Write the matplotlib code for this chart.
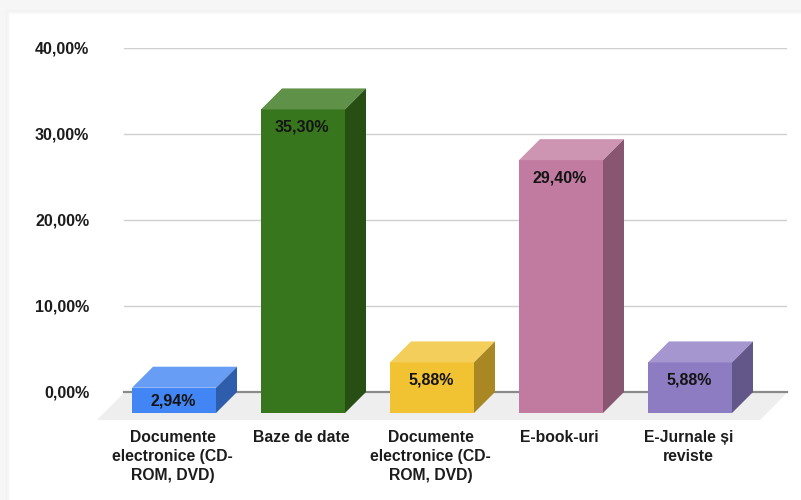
import matplotlib
matplotlib.use("Agg")
import matplotlib.pyplot as plt
from matplotlib.patches import Polygon, Rectangle
from matplotlib.transforms import IdentityTransform

plt.rcParams['font.family'] = ['Liberation Sans', 'DejaVu Sans']

categories = ["Documente\nelectronice (CD-\nROM, DVD)", "Baze de date",
              "Documente\nelectronice (CD-\nROM, DVD)", "E-book-uri",
              "E-Jurnale și\nreviste"]
values = [2.94, 35.30, 5.88, 29.40, 5.88]
value_labels = ["2,94%", "35,30%", "5,88%", "29,40%", "5,88%"]
y_ticks = [0, 10, 20, 30, 40]
y_tick_labels = ["0,00%", "10,00%", "20,00%", "30,00%", "40,00%"]
front_colors = ["#4285f4", "#38761d", "#f1c232", "#c27ba0", "#8e7cc3"]
top_colors = ["#689df6", "#5f9148", "#f4ce5b", "#ce95b3", "#a596cf"]
side_colors = ["#2e5dab", "#274f14", "#a98823", "#885670", "#635689"]

W, H = 801, 500
fig = plt.figure(figsize=(W / 100, H / 100), dpi=100, facecolor="#f6f6f6")

# card with soft shadow
for inset, col in [(4, "#f2f2f2"), (3, "#f4f4f4"), (2, "#f7f7f7"), (1, "#fbfbfb"), (0, "#ffffff")]:
    fig.add_artist(Rectangle((10 - inset, 0), W, H - 14 + inset, transform=IdentityTransform(),
                             facecolor=col, edgecolor="none", zorder=-10 + (4 - inset)))

L, R, T, B = 124, 787, 48, 392
ax = fig.add_axes([L / W, 1 - B / H, (R - L) / W, (B - T) / H], zorder=5)
ax.patch.set_alpha(0)
px_x = 129.0
px_y = (B - T) / 40.0
ax.set_xlim((L - 195) / px_x, (R - 195) / px_x)
ax.set_ylim(0, 40)
for s in ax.spines.values():
    s.set_visible(False)

dx = 21 / px_x          # depth of the 3D effect, in data units
dy = 21 / px_y
w = 84 / px_x
xs = list(range(len(values)))

# floor
x0, x1 = ax.get_xlim()
ax.add_patch(Polygon([(x0, -0.1), (x1, -0.1), (x1 - 27 / px_x, -28 / px_y), (x0 - 27 / px_x, -28 / px_y)],
                     closed=True, facecolor="#eeeeee", edgecolor="none", clip_on=False, zorder=0.5))

ax.set_yticks(y_ticks)
ax.set_yticklabels(y_tick_labels, fontsize=11.5, fontweight="bold", color="#1c1c1c")
ax.set_xticks([x - dx - 1.5 / px_x for x in xs])
ax.set_xticklabels(categories, fontsize=11.3, fontweight="bold", color="#1c1c1c",
                   linespacing=1.32)
ax.tick_params(axis="y", length=0, pad=25)
ax.tick_params(axis="x", length=0, pad=27.5)
ax.grid(axis="y", color="#cfcfcf", linewidth=1)
ax.set_axisbelow(True)
ax.axhline(0, color="#8a8a8a", linewidth=1.6, zorder=1, clip_on=False)

for x, v, lab, fc, tc, sc in zip(xs, values, value_labels, front_colors, top_colors, side_colors):
    # back plane spans [x - w/2, x + w/2]; front is shifted by (-dx, -dy)
    xl, xr = x - w / 2 - dx, x + w / 2 - dx
    yb, yt = -dy, v - dy
    ax.add_patch(Polygon([(xl, yb), (xr, yb), (xr, yt), (xl, yt)], closed=True,
                         facecolor=fc, edgecolor="none", clip_on=False, zorder=3))
    ax.add_patch(Polygon([(xl, yt), (xr, yt), (xr + dx, yt + dy), (xl + dx, yt + dy)], closed=True,
                         facecolor=tc, edgecolor="none", clip_on=False, zorder=3))
    ax.add_patch(Polygon([(xr, yb), (xr + dx, yb + dy), (xr + dx, yt + dy), (xr, yt)], closed=True,
                         facecolor=sc, edgecolor="none", clip_on=False, zorder=3))
    offset_px = min(18, v * px_y / 2 + 0.5)
    ax.annotate(lab, (x - dx, yt), xytext=(-0.7, -offset_px * 0.72), textcoords="offset points",
                ha="center", va="center", fontsize=11.5, fontweight="bold",
                color="#141414", zorder=4, annotation_clip=False)

fig.savefig("out.png", dpi=100, facecolor=fig.get_facecolor())
